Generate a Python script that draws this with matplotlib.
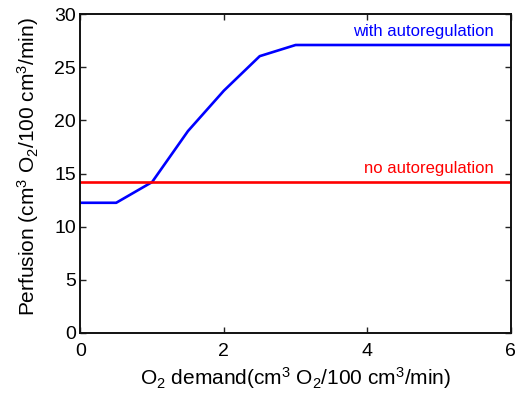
import matplotlib
matplotlib.use("Agg")
import matplotlib.pyplot as plt

plt.rcParams['font.family'] = ['Liberation Sans', 'DejaVu Sans']
plt.rcParams['mathtext.fontset'] = 'custom'
plt.rcParams['mathtext.rm'] = 'Liberation Sans'
plt.rcParams['mathtext.it'] = 'Liberation Sans:italic'
plt.rcParams['mathtext.bf'] = 'Liberation Sans:bold'

demand = [0, 0.5, 1.0, 1.5, 2.0, 2.5, 3.0, 6.0]
with_auto = [12.25, 12.25, 14.2, 19.0, 22.8, 26.05, 27.1, 27.1]
no_auto_x = [0, 6]
no_auto = [14.2, 14.2]

xticks = [0, 2, 4, 6]
yticks = [0, 5, 10, 15, 20, 25, 30]

fig = plt.figure(figsize=(5.15, 3.94), dpi=100)
ax = fig.add_axes([0.156, 0.155, 0.836, 0.809])
ax.plot(demand, with_auto, color='#0000ff', lw=1.9)
ax.plot(no_auto_x, no_auto, color='#ff0000', lw=1.9)
ax.text(5.76, 28.4, 'with autoregulation', color='#0000ff', ha='right', va='center', fontsize=12)
ax.text(5.76, 15.5, 'no autoregulation', color='#ff0000', ha='right', va='center', fontsize=12)

ax.set_xlim(0, 6)
ax.set_ylim(0, 30)
ax.set_xticks(xticks)
ax.set_yticks(yticks)
ax.tick_params(direction='in', top=True, right=True, labelsize=14, length=4, width=1, color='#222222')
ax.tick_params(axis='y', pad=3)
ax.tick_params(axis='x', pad=7)
for s in ax.spines.values():
    s.set_linewidth(1.4)
    s.set_color('#111111')
ax.set_xlabel('O$_2$ demand(cm$^3$ O$_2$/100 cm$^3$/min)', fontsize=15, labelpad=4)
ax.set_ylabel('Perfusion (cm$^3$ O$_2$/100 cm$^3$/min)', fontsize=15, labelpad=10)
ax.yaxis.label.set_y(0.523)

fig.savefig('out.png', dpi=100)
